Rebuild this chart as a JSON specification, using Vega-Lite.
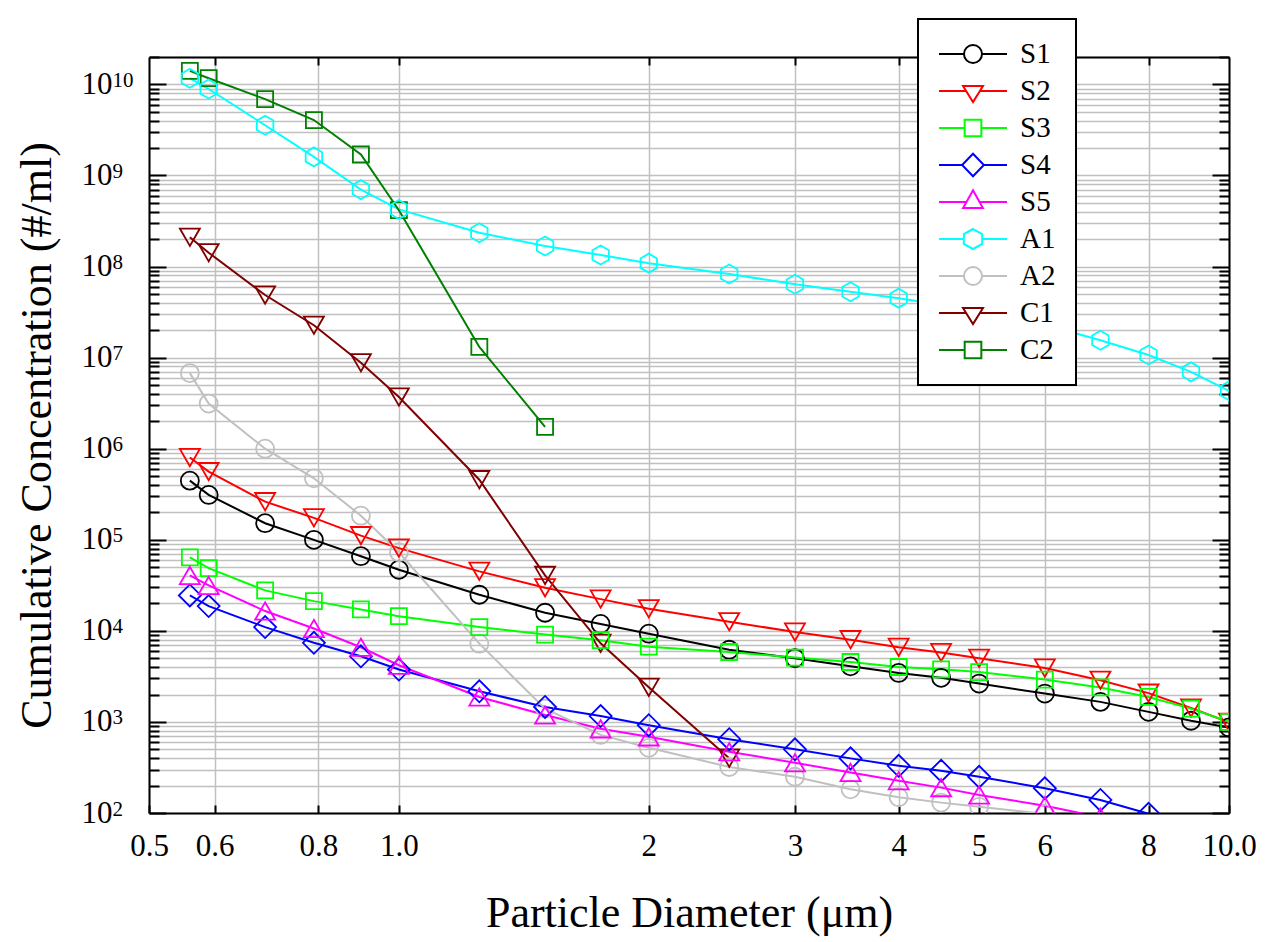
{
  "$schema": "https://vega.github.io/schema/vega-lite/v6.json",
  "width": 1080,
  "height": 756,
  "autosize": "none",
  "padding": {"left": 149, "top": 57, "right": 37, "bottom": 129},
  "background": "white",
  "config": {
    "font": "Liberation Serif",
    "view": {"stroke": null},
    "legend": {"strokeWidth": 2}
  },
  "data": {
    "values": [
      {"s":"S1","d":0.56,"c":446000},{"s":"S1","d":0.59,"c":311000},{"s":"S1","d":0.69,"c":152000},{"s":"S1","d":0.79,"c":99800},{"s":"S1","d":0.9,"c":66000},{"s":"S1","d":1.0,"c":46900},{"s":"S1","d":1.25,"c":24900},{"s":"S1","d":1.5,"c":15800},{"s":"S1","d":1.75,"c":11900},{"s":"S1","d":2,"c":9300},{"s":"S1","d":2.5,"c":6200},{"s":"S1","d":3,"c":5000},{"s":"S1","d":3.5,"c":4080},{"s":"S1","d":4,"c":3450},{"s":"S1","d":4.5,"c":3050},{"s":"S1","d":5,"c":2640},{"s":"S1","d":6,"c":2050},{"s":"S1","d":7,"c":1660},{"s":"S1","d":8,"c":1290},{"s":"S1","d":9,"c":1030},{"s":"S1","d":10,"c":870},
      {"s":"S2","d":0.56,"c":800000},{"s":"S2","d":0.59,"c":560000},{"s":"S2","d":0.69,"c":262000},{"s":"S2","d":0.79,"c":174000},{"s":"S2","d":0.9,"c":111000},{"s":"S2","d":1.0,"c":81000},{"s":"S2","d":1.25,"c":45000},{"s":"S2","d":1.5,"c":29700},{"s":"S2","d":1.75,"c":22300},{"s":"S2","d":2,"c":17500},{"s":"S2","d":2.5,"c":12600},{"s":"S2","d":3,"c":9700},{"s":"S2","d":3.5,"c":8000},{"s":"S2","d":4,"c":6600},{"s":"S2","d":4.5,"c":5770},{"s":"S2","d":5,"c":5000},{"s":"S2","d":6,"c":3900},{"s":"S2","d":7,"c":2870},{"s":"S2","d":8,"c":2070},{"s":"S2","d":9,"c":1420},{"s":"S2","d":10,"c":990},
      {"s":"S3","d":0.56,"c":64000},{"s":"S3","d":0.59,"c":48800},{"s":"S3","d":0.69,"c":27800},{"s":"S3","d":0.79,"c":21200},{"s":"S3","d":0.9,"c":17200},{"s":"S3","d":1.0,"c":14500},{"s":"S3","d":1.25,"c":11000},{"s":"S3","d":1.5,"c":9100},{"s":"S3","d":1.75,"c":7900},{"s":"S3","d":2,"c":6700},{"s":"S3","d":2.5,"c":5860},{"s":"S3","d":3,"c":5090},{"s":"S3","d":3.5,"c":4550},{"s":"S3","d":4,"c":4010},{"s":"S3","d":4.5,"c":3780},{"s":"S3","d":5,"c":3530},{"s":"S3","d":6,"c":2920},{"s":"S3","d":7,"c":2390},{"s":"S3","d":8,"c":1880},{"s":"S3","d":9,"c":1400},{"s":"S3","d":10,"c":1000},
      {"s":"S4","d":0.56,"c":24500},{"s":"S4","d":0.59,"c":18700},{"s":"S4","d":0.69,"c":11000},{"s":"S4","d":0.79,"c":7400},{"s":"S4","d":0.9,"c":5260},{"s":"S4","d":1.0,"c":3760},{"s":"S4","d":1.25,"c":2170},{"s":"S4","d":1.5,"c":1460},{"s":"S4","d":1.75,"c":1160},{"s":"S4","d":2,"c":920},{"s":"S4","d":2.5,"c":647},{"s":"S4","d":3,"c":500},{"s":"S4","d":3.5,"c":398},{"s":"S4","d":4,"c":330},{"s":"S4","d":4.5,"c":291},{"s":"S4","d":5,"c":250},{"s":"S4","d":6,"c":187},{"s":"S4","d":7,"c":139},{"s":"S4","d":8,"c":98},
      {"s":"S5","d":0.56,"c":40600},{"s":"S5","d":0.59,"c":31500},{"s":"S5","d":0.69,"c":16500},{"s":"S5","d":0.79,"c":10600},{"s":"S5","d":0.9,"c":6600},{"s":"S5","d":1.0,"c":4190},{"s":"S5","d":1.25,"c":1880},{"s":"S5","d":1.5,"c":1190},{"s":"S5","d":1.75,"c":840},{"s":"S5","d":2,"c":686},{"s":"S5","d":2.5,"c":470},{"s":"S5","d":3,"c":356},{"s":"S5","d":3.5,"c":279},{"s":"S5","d":4,"c":226},{"s":"S5","d":4.5,"c":190},{"s":"S5","d":5,"c":158},{"s":"S5","d":6,"c":120},{"s":"S5","d":7,"c":90},
      {"s":"A1","d":0.56,"c":11700000000},{"s":"A1","d":0.59,"c":8900000000},{"s":"A1","d":0.69,"c":3560000000},{"s":"A1","d":0.79,"c":1600000000},{"s":"A1","d":0.9,"c":700000000},{"s":"A1","d":1.0,"c":424000000},{"s":"A1","d":1.25,"c":235000000},{"s":"A1","d":1.5,"c":168000000},{"s":"A1","d":1.75,"c":134000000},{"s":"A1","d":2,"c":109000000},{"s":"A1","d":2.5,"c":83000000},{"s":"A1","d":3,"c":64000000},{"s":"A1","d":3.5,"c":53000000},{"s":"A1","d":4,"c":45000000},{"s":"A1","d":4.5,"c":38000000},{"s":"A1","d":5,"c":32000000},{"s":"A1","d":6,"c":23000000},{"s":"A1","d":7,"c":15500000},{"s":"A1","d":8,"c":10700000},{"s":"A1","d":9,"c":6980000},{"s":"A1","d":10,"c":4320000},
      {"s":"A2","d":0.56,"c":6760000},{"s":"A2","d":0.59,"c":3130000},{"s":"A2","d":0.69,"c":1000000},{"s":"A2","d":0.79,"c":473000},{"s":"A2","d":0.9,"c":184000},{"s":"A2","d":1.0,"c":73000},{"s":"A2","d":1.25,"c":7240},{"s":"A2","d":1.5,"c":1400},{"s":"A2","d":1.75,"c":720},{"s":"A2","d":2,"c":520},{"s":"A2","d":2.5,"c":320},{"s":"A2","d":3,"c":250},{"s":"A2","d":3.5,"c":182},{"s":"A2","d":4,"c":149},{"s":"A2","d":4.5,"c":130},{"s":"A2","d":5,"c":117},{"s":"A2","d":6,"c":98},
      {"s":"C1","d":0.56,"c":210000000},{"s":"C1","d":0.59,"c":142000000},{"s":"C1","d":0.69,"c":48700000},{"s":"C1","d":0.79,"c":22700000},{"s":"C1","d":0.9,"c":8800000},{"s":"C1","d":1.0,"c":3700000},{"s":"C1","d":1.25,"c":457000},{"s":"C1","d":1.5,"c":40600},{"s":"C1","d":1.75,"c":7300},{"s":"C1","d":2,"c":2400},{"s":"C1","d":2.5,"c":400},
      {"s":"C2","d":0.56,"c":14100000000},{"s":"C2","d":0.59,"c":11700000000},{"s":"C2","d":0.69,"c":6900000000},{"s":"C2","d":0.79,"c":4060000000},{"s":"C2","d":0.9,"c":1700000000},{"s":"C2","d":1.0,"c":416000000},{"s":"C2","d":1.25,"c":13100000},{"s":"C2","d":1.5,"c":1740000}
    ]
  },
  "layer": [
    {
      "encoding": {
        "x": {
          "field": "d", "type": "quantitative",
          "scale": {"type": "log", "domain": [0.5, 10], "nice": false},
          "axis": {
            "orient": "bottom",
            "values": [0.5, 0.6, 0.8, 1, 2, 3, 4, 5, 6, 8, 10],
            "labelExpr": "datum.value == 1 ? '1.0' : datum.value == 10 ? '10.0' : format(datum.value, '~g')",
            "labelFont": "Liberation Serif", "labelFontSize": 31, "labelColor": "black",
            "labelPadding": 26, "labelFlush": false, "labelOverlap": false, "labelBound": false,
            "tickSize": -8, "tickWidth": 2, "tickColor": "black",
            "domain": true, "domainColor": "black", "domainWidth": 2,
            "grid": true, "gridColor": "#c0c0c0", "gridWidth": 1.5,
            "title": "Particle Diameter (μm)",
            "titleFont": "Liberation Serif", "titleFontSize": 44, "titleFontWeight": "normal", "titleColor": "black",
            "titleBaseline": "alphabetic", "titleY": 113, "titleX": 540, "titleAlign": "center"
          }
        },
        "y": {
          "field": "c", "type": "quantitative",
          "scale": {"type": "log", "domain": [100, 20000000000], "nice": false},
          "axis": {
            "orient": "left",
            "values": [100,200,300,400,500,600,700,800,900,1000,2000,3000,4000,5000,6000,7000,8000,9000,10000,20000,30000,40000,50000,60000,70000,80000,90000,100000,200000,300000,400000,500000,600000,700000,800000,900000,1000000,2000000,3000000,4000000,5000000,6000000,7000000,8000000,9000000,10000000,20000000,30000000,40000000,50000000,60000000,70000000,80000000,90000000,100000000,200000000,300000000,400000000,500000000,600000000,700000000,800000000,900000000,1000000000,2000000000,3000000000,4000000000,5000000000,6000000000,7000000000,8000000000,9000000000,10000000000,20000000000],
            "labelExpr": "abs(log(datum.value)/LN10 - round(log(datum.value)/LN10)) < 0.001 ? '10' : ''",
            "labelFont": "Liberation Serif", "labelFontSize": 31, "labelColor": "black",
            "labelPadding": 54, "labelFlush": false, "labelOverlap": false, "labelBound": false,
            "tickSize": {"condition": {"test": "abs(log(datum.value)/LN10 - round(log(datum.value)/LN10)) < 0.001", "value": -17}, "value": -10},
            "tickWidth": 2, "tickColor": "black",
            "domain": true, "domainColor": "black", "domainWidth": 2,
            "grid": true, "gridColor": "#c0c0c0", "gridWidth": 1.5,
            "title": "Cumulative Concentration (#/ml)",
            "titleFont": "Liberation Serif", "titleFontSize": 44, "titleFontWeight": "normal", "titleColor": "black",
            "titleAngle": -90, "titleBaseline": "alphabetic", "titleAlign": "center", "titleX": -99, "titleY": 378
          }
        },
        "color": {
          "field": "s", "type": "nominal",
          "scale": {
            "domain": ["S1","S2","S3","S4","S5","A1","A2","C1","C2"],
            "range": ["#000000","#ff0000","#00ff00","#0000ff","#ff00ff","#00ffff","#c0c0c0","#800000","#008000"]
          },
          "legend": null
        }
      },
      "layer": [
        {"mark": {"type": "line", "strokeWidth": 2, "clip": true}},
        {"transform": [{"filter": {"field": "s", "oneOf": ["S1","A2"]}}],
         "mark": {"type": "point", "shape": "circle", "size": 324, "filled": false, "strokeWidth": 1.8, "opacity": 1, "clip": true}},
        {"transform": [{"filter": {"field": "s", "oneOf": ["S2","C1"]}}],
         "mark": {"type": "point", "shape": "triangle-down", "size": 400, "filled": false, "strokeWidth": 1.8, "opacity": 1, "clip": true}},
        {"transform": [{"filter": {"field": "s", "oneOf": ["S3","C2"]}}],
         "mark": {"type": "point", "shape": "square", "size": 256, "filled": false, "strokeWidth": 1.8, "opacity": 1, "clip": true}},
        {"transform": [{"filter": {"field": "s", "equal": "S4"}}],
         "mark": {"type": "point", "shape": "diamond", "size": 484, "filled": false, "strokeWidth": 1.8, "opacity": 1, "clip": true}},
        {"transform": [{"filter": {"field": "s", "equal": "S5"}}],
         "mark": {"type": "point", "shape": "triangle-up", "size": 400, "filled": false, "strokeWidth": 1.8, "opacity": 1, "clip": true}},
        {"transform": [{"filter": {"field": "s", "equal": "A1"}}],
         "mark": {"type": "point", "shape": "M0,-1L0.866,-0.5L0.866,0.5L0,1L-0.866,0.5L-0.866,-0.5Z", "size": 361, "filled": false, "strokeWidth": 1.8, "opacity": 1, "clip": true}}
      ]
    },
    {
      "mark": {"type": "point", "opacity": 0, "filled": false, "clip": true},
      "encoding": {
        "x": {
          "field": "d", "type": "quantitative",
          "scale": {"type": "log", "domain": [0.5, 10], "nice": false},
          "axis": {
            "orient": "top", "values": [0.6, 0.8, 1, 2, 3, 4, 5, 6, 8],
            "labels": false, "title": null, "grid": false,
            "tickSize": -8, "tickWidth": 2, "tickColor": "black",
            "domain": true, "domainColor": "black", "domainWidth": 2
          }
        },
        "y": {
          "field": "c", "type": "quantitative",
          "scale": {"type": "log", "domain": [100, 20000000000], "nice": false},
          "axis": {
            "orient": "right",
            "values": [100,200,300,400,500,600,700,800,900,1000,2000,3000,4000,5000,6000,7000,8000,9000,10000,20000,30000,40000,50000,60000,70000,80000,90000,100000,200000,300000,400000,500000,600000,700000,800000,900000,1000000,2000000,3000000,4000000,5000000,6000000,7000000,8000000,9000000,10000000,20000000,30000000,40000000,50000000,60000000,70000000,80000000,90000000,100000000,200000000,300000000,400000000,500000000,600000000,700000000,800000000,900000000,1000000000,2000000000,3000000000,4000000000,5000000000,6000000000,7000000000,8000000000,9000000000,10000000000,20000000000],
            "labels": false, "title": null, "grid": false,
            "tickSize": {"condition": {"test": "abs(log(datum.value)/LN10 - round(log(datum.value)/LN10)) < 0.001", "value": -17}, "value": -10},
            "tickWidth": 2, "tickColor": "black",
            "domain": true, "domainColor": "black", "domainWidth": 2
          }
        },
        "color": {
          "field": "s", "type": "nominal",
          "scale": {
            "domain": ["S1","S2","S3","S4","S5","A1","A2","C1","C2"],
            "range": ["#000000","#ff0000","#00ff00","#0000ff","#ff00ff","#00ffff","#c0c0c0","#800000","#008000"]
          },
          "legend": {
            "orient": "none", "legendX": 769, "legendY": -38,
            "title": null,
            "labelFont": "Liberation Serif", "labelFontSize": 29, "labelColor": "black", "labelLimit": 0,
            "labelOffset": 12,
            "symbolSize": 4624, "symbolStrokeWidth": 2, "symbolOpacity": 1, "symbolFillColor": "transparent",
            "symbolOffset": 0,
            "clipHeight": 30, "rowPadding": 7, "padding": 20,
            "strokeColor": "black", "fillColor": "white"
          }
        },
        "shape": {
          "field": "s", "type": "nominal",
          "scale": {
            "domain": ["S1","S2","S3","S4","S5","A1","A2","C1","C2"],
            "range": [
              "M-1,0L-0.265,0M0.265,0L1,0M0.265,0A0.265 0.265 0 1 1 -0.265,0A0.265 0.265 0 1 1 0.265,0",
              "M-1,0L-0.202,0M0.202,0L1,0M-0.294,-0.147L0.294,-0.147L0,0.324Z",
              "M-1,0L-0.245,0M0.245,0L1,0M-0.245,-0.245L0.245,-0.245L0.245,0.245L-0.245,0.245Z",
              "M-1,0L-0.32,0M0.32,0L1,0M-0.32,0L0,-0.33L0.32,0L0,0.33Z",
              "M-1,0L-0.192,0M0.192,0L1,0M0,-0.343L0.29,0.176L-0.29,0.176Z",
              "M-1,0L-0.27,0M0.27,0L1,0M0,-0.294L0.27,-0.147L0.27,0.147L0,0.294L-0.27,0.147L-0.27,-0.147Z",
              "M-1,0L-0.265,0M0.265,0L1,0M0.265,0A0.265 0.265 0 1 1 -0.265,0A0.265 0.265 0 1 1 0.265,0",
              "M-1,0L-0.202,0M0.202,0L1,0M-0.294,-0.147L0.294,-0.147L0,0.324Z",
              "M-1,0L-0.245,0M0.245,0L1,0M-0.245,-0.245L0.245,-0.245L0.245,0.245L-0.245,0.245Z"
            ]
          }
        }
      }
    },
    {
      "mark": {"type": "point", "opacity": 0, "clip": true},
      "encoding": {
        "x": {
          "field": "d", "type": "quantitative",
          "scale": {"type": "log", "domain": [0.5, 10], "nice": false},
          "axis": null
        },
        "y": {
          "field": "c", "type": "quantitative",
          "scale": {"type": "log", "domain": [100, 20000000000], "nice": false},
          "axis": {
            "orient": "left",
            "values": [100, 1000, 10000, 100000, 1000000, 10000000, 100000000, 1000000000, 10000000000],
            "labelExpr": "'' + round(log(datum.value)/LN10)",
            "labelFont": "Liberation Serif", "labelFontSize": 21, "labelColor": "black",
            "labelAlign": "left", "labelBaseline": "alphabetic", "labelOffset": 2,
            "labelPadding": 37, "labelFlush": false, "labelOverlap": false, "labelBound": false,
            "ticks": false, "tickSize": 0, "domain": false, "grid": false, "title": null
          }
        }
      }
    }
  ],
  "resolve": {
    "axis": {"x": "independent", "y": "independent"},
    "scale": {"color": "independent", "shape": "independent"}
  }
}
